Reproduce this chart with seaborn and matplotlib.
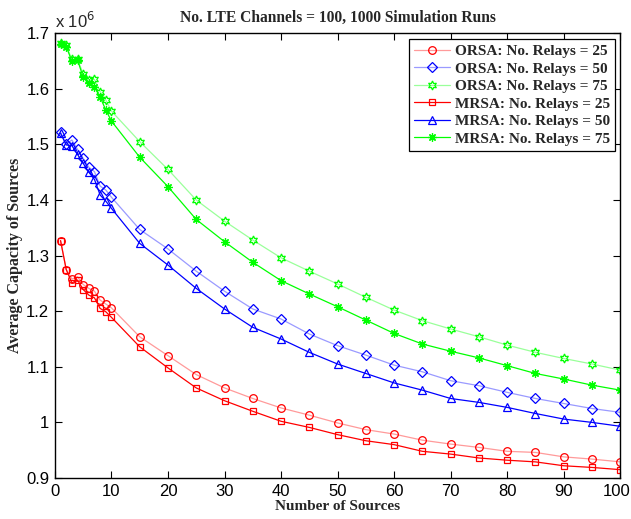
import numpy as np
import pandas as pd
import matplotlib
matplotlib.use("Agg")
import matplotlib.pyplot as plt
import matplotlib.transforms as mtransforms
import seaborn as sns

# ---------------- data ----------------
num_sources = [1, 2, 3, 4, 5, 6, 7, 8, 9, 10, 15, 20, 25, 30, 35, 40, 45, 50,
               55, 60, 65, 70, 75, 80, 85, 90, 95, 100]

orsa_25 = [1.327, 1.275, 1.258, 1.262, 1.248, 1.241, 1.236, 1.220, 1.213, 1.206,
           1.154, 1.120, 1.086, 1.062, 1.043, 1.026, 1.013, 0.999, 0.987, 0.979,
           0.968, 0.961, 0.955, 0.948, 0.946, 0.938, 0.934, 0.929]
orsa_50 = [1.522, 1.500, 1.508, 1.491, 1.475, 1.459, 1.451, 1.425, 1.418, 1.405,
           1.347, 1.312, 1.272, 1.236, 1.204, 1.186, 1.159, 1.138, 1.121, 1.103,
           1.091, 1.075, 1.066, 1.054, 1.043, 1.034, 1.025, 1.018]
orsa_75 = [1.682, 1.678, 1.653, 1.653, 1.627, 1.615, 1.617, 1.595, 1.580, 1.560,
           1.505, 1.455, 1.400, 1.362, 1.328, 1.296, 1.272, 1.249, 1.225, 1.202,
           1.183, 1.168, 1.154, 1.139, 1.126, 1.115, 1.105, 1.094]
mrsa_25 = [1.327, 1.275, 1.251, 1.256, 1.239, 1.229, 1.224, 1.205, 1.199, 1.189,
           1.136, 1.098, 1.062, 1.039, 1.020, 1.002, 0.991, 0.978, 0.967, 0.960,
           0.948, 0.943, 0.936, 0.932, 0.929, 0.922, 0.919, 0.915]
mrsa_50 = [1.520, 1.499, 1.498, 1.482, 1.466, 1.450, 1.437, 1.409, 1.398, 1.385,
           1.322, 1.283, 1.241, 1.204, 1.171, 1.150, 1.126, 1.105, 1.088, 1.071,
           1.058, 1.043, 1.036, 1.027, 1.016, 1.006, 1.000, 0.993]
mrsa_75 = [1.681, 1.676, 1.650, 1.652, 1.621, 1.610, 1.603, 1.585, 1.562, 1.542,
           1.477, 1.424, 1.365, 1.325, 1.288, 1.255, 1.231, 1.208, 1.184, 1.160,
           1.141, 1.128, 1.116, 1.102, 1.088, 1.078, 1.067, 1.058]

series_labels = ["ORSA: No. Relays = 25", "ORSA: No. Relays = 50", "ORSA: No. Relays = 75",
                 "MRSA: No. Relays = 25", "MRSA: No. Relays = 50", "MRSA: No. Relays = 75"]
series_values = [orsa_25, orsa_50, orsa_75, mrsa_25, mrsa_50, mrsa_75]

x_ticks = list(range(0, 101, 10))
y_ticks = [0.9, 1.0, 1.1, 1.2, 1.3, 1.4, 1.5, 1.6, 1.7]
y_tick_labels = ["0.9", "1", "1.1", "1.2", "1.3", "1.4", "1.5", "1.6", "1.7"]

title = "No. LTE Channels = 100, 1000 Simulation Runs"
xlabel = "Number of Sources"
ylabel = "Average Capacity of Sources"

# ---------------- styles ----------------
full_colors = ["#ff0000", "#0000ff", "#00ff00", "#ff0000", "#0000ff", "#00ff00"]
line_colors = ["#ff9a9a", "#9a9aff", "#9aff9a", "#ff0000", "#0000ff", "#00ff00"]
markers = ["o", "D", (6, 1, 0), "s", "^", (8, 2, 0)]
msizes = [5.5, 4.8, 6.5, 5.0, 5.8, 6.0]

sns.set_theme(style="ticks")
plt.rcParams["font.family"] = ["Liberation Sans", "DejaVu Sans"]

fig = plt.figure(figsize=(6.31, 5.19), dpi=100)
ax = fig.add_axes([0.087, 0.079, 0.896, 0.857])

rows = []
for lab, vals in zip(series_labels, series_values):
    for xv, yv in zip(num_sources, vals):
        rows.append({"series": lab, "x": xv, "y": yv * 1e6})
df = pd.DataFrame(rows)

for i, lab in enumerate(series_labels):
    sub = df[df["series"] == lab]
    sns.lineplot(data=sub, x="x", y="y", ax=ax, color=line_colors[i],
                 linewidth=0.9, marker=markers[i], markersize=msizes[i],
                 markerfacecolor="none", markeredgecolor=full_colors[i],
                 markeredgewidth=0.9, label=lab, estimator=None, sort=False)

ax.set_xlim(0, 100)
ax.set_ylim(0.9e6, 1.7e6)
ax.set_xticks(x_ticks)
ax.set_yticks([v * 1e6 for v in y_ticks])
ax.set_yticklabels(y_tick_labels)
ax.tick_params(direction="in", length=5, width=0.8, top=True, right=True,
               labelsize=12, colors="black", pad=4)
for sp in ax.spines.values():
    sp.set_visible(True)
    sp.set_color("black")
    sp.set_linewidth(1.0)

# nudge the last x tick label slightly left so it stays inside the canvas
last_lbl = ax.get_xticklabels()[-1]
last_lbl.set_transform(last_lbl.get_transform() +
                       mtransforms.ScaledTranslation(-4 / 100, 0, fig.dpi_scale_trans))

ax.text(0.0, 1.005, r"x 10$^6$", transform=ax.transAxes, ha="left", va="bottom",
        fontsize=12, family=["Liberation Sans"])

serif_bold = dict(family=["Liberation Serif", "DejaVu Serif"], weight="bold")
ax.set_title(title, fontsize=11.2, pad=8, **serif_bold)
ax.set_xlabel(xlabel, fontsize=11, labelpad=1, **serif_bold)
ax.set_ylabel(ylabel, fontsize=11.5, labelpad=2, **serif_bold)

leg = ax.legend(loc="upper right", bbox_to_anchor=(0.991, 0.9865),
                prop=dict(family="Liberation Serif", weight="bold", size=11),
                frameon=True, fancybox=False, edgecolor="black", framealpha=1,
                handlelength=2.35, borderpad=0.35, labelspacing=0.25, handletextpad=0.3,
                borderaxespad=0.0)
leg.get_frame().set_linewidth(0.9)

fig.savefig("out.png", dpi=100)
